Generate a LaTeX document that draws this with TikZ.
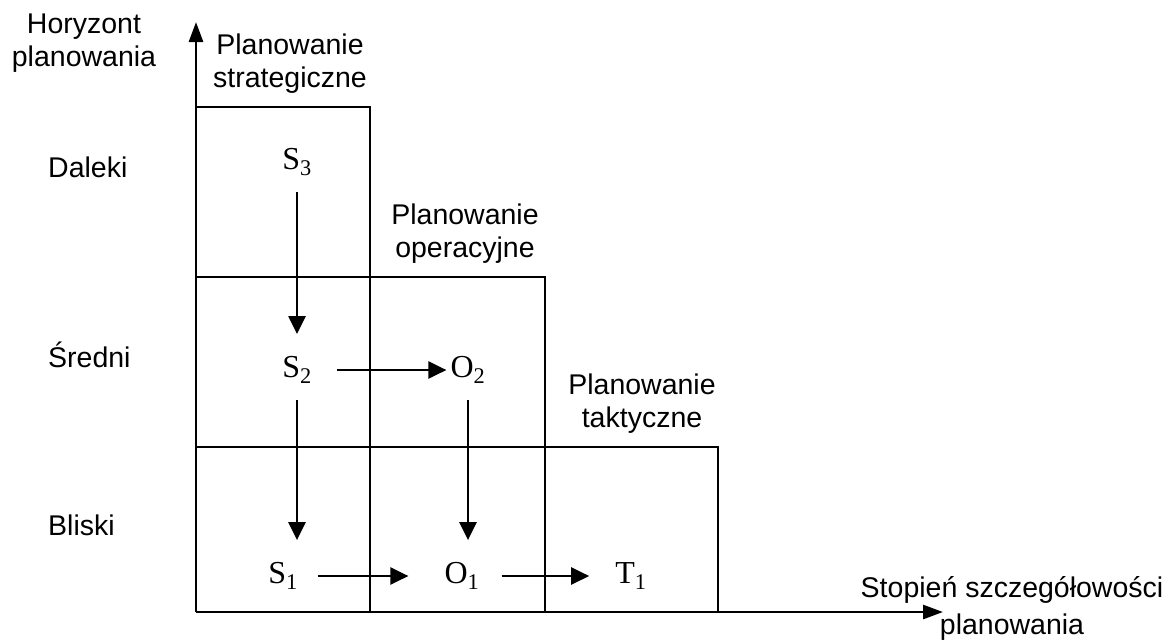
\documentclass[tikz,border=0pt]{standalone}
\usepackage{fontspec}
\setmainfont{Liberation Serif}
\newfontfamily\lblfont{Liberation Sans}
\usetikzlibrary{arrows.meta}

\begin{document}
\begin{tikzpicture}[x=1pt, y=-1pt,
  lbl/.style={font=\lblfont\fontsize{28.5}{33}\selectfont, align=center, inner sep=0pt},
  rowlbl/.style={lbl, anchor=west},
  var/.style={font=\fontsize{32}{34}\selectfont, inner sep=6pt},
  frame/.style={line width=2.6pt},
  flow/.style={line width=2.4pt, -{Triangle[length=18pt,width=17pt]}, shorten <=10pt, shorten >=16pt},
  axis/.style={line width=2.8pt, -{Triangle[length=20pt,width=14pt]}}]
  \useasboundingbox (0,0) rectangle (1175,641);
  % osie
  \coordinate (origin) at (196,612);
  \coordinate (ytip) at (196,22);
  \coordinate (xtip) at (943,612);
  \draw[axis] (origin) -- (ytip);
  \draw[axis] (origin) -- (xtip);
  \node[lbl] (horizon) at (84,43) {Horyzont\\planowania};
  \node[lbl] (detail) at (1012,608) {Stopień szczegółowości\\[4pt]planowania};
  % obszary planowania
  \draw[frame] (196,107) -| (370,612);
  \draw[frame] (196,277) -| (545,612);
  \draw[frame] (196,447) -| (718,612);
  \node[lbl] (strat) at (290,64) {Planowanie\\strategiczne};
  \node[lbl] (oper) at (465,234) {Planowanie\\operacyjne};
  \node[lbl] (takt) at (642,404) {Planowanie\\taktyczne};
  % horyzonty
  \node[rowlbl] (far) at (48,167) {Daleki};
  \node[rowlbl] (mid) at (48,355) {Średni};
  \node[rowlbl] (near) at (48,525) {Bliski};
  % plany
  \node[var] (S3) at (297,162) {S\textsubscript{3}};
  \node[var] (S2) at (297,370) {S\textsubscript{2}};
  \node[var] (S1) at (283,576) {S\textsubscript{1}};
  \node[var] (O2) at (468,370) {O\textsubscript{2}};
  \node[var] (O1) at (462,576) {O\textsubscript{1}};
  \node[var] (T1) at (631,576) {T\textsubscript{1}};
  \draw[flow] (S3) -- (S2);
  \draw[flow] (S2) -- (S2 |- S1.north);
  \draw[flow] (O2) -- (O2 |- O1.north);
  \draw[flow, shorten <=19pt, shorten >=-2pt] (S2) -- (O2);
  \draw[flow, shorten <=14pt, shorten >=30pt] (S1) -- (O1);
  \draw[flow, shorten <=16pt, shorten >=20pt] (O1) -- (T1);
\end{tikzpicture}
\end{document}
